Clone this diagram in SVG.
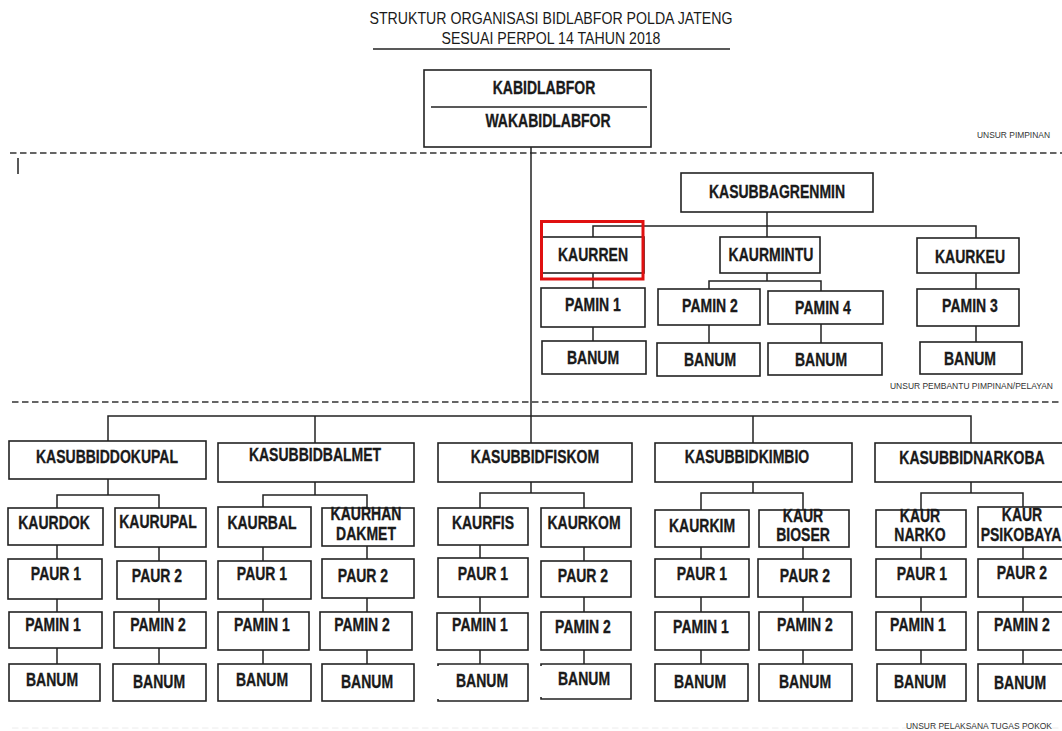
<svg xmlns="http://www.w3.org/2000/svg" width="1062" height="731" viewBox="0 0 1062 731">
<style>
.bx{fill:#fff;stroke:#222;stroke-width:1.6}
.op{fill:none;stroke:#222;stroke-width:1.6}
.ln{fill:none;stroke:#222;stroke-width:1.5}
.ds{fill:none;stroke:#333;stroke-width:1.5;stroke-dasharray:6.5 3.5}
.t{font-family:"Liberation Sans",Arial,sans-serif;font-weight:bold;font-size:14px;fill:#1a1a1a;stroke:#1a1a1a;stroke-width:0.25;text-anchor:middle;dominant-baseline:central;transform-box:fill-box;transform-origin:50% 50%;transform:scaleY(1.27)}
.h{font-family:"Liberation Sans",Arial,sans-serif;font-size:14px;fill:#1a1a1a;text-anchor:middle;transform-box:fill-box;transform-origin:50% 50%;transform:scaleY(1.22)}
.s{font-family:"Liberation Sans",Arial,sans-serif;font-size:7px;fill:#333;transform-box:fill-box;transform-origin:50% 50%;transform:scaleY(1.2)}
</style>
<rect width="1062" height="731" fill="#fff"/>
<g id="title">
<text class="h" x="551" y="23" textLength="363" lengthAdjust="spacingAndGlyphs">STRUKTUR ORGANISASI BIDLABFOR POLDA JATENG</text>
<text class="h" x="551" y="43" textLength="219" lengthAdjust="spacingAndGlyphs">SESUAI PERPOL 14 TAHUN 2018</text>
<line class="ln" x1="373" y1="49" x2="730" y2="49"/>
</g>
<g id="sections">
<line class="ds" x1="10" y1="153" x2="1062" y2="153"/>
<line class="ds" x1="12" y1="402" x2="1062" y2="402"/>
<line x1="12" y1="728" x2="1062" y2="728" stroke="#ececec" stroke-width="1" stroke-dasharray="6.5 3.5"/>
<line class="ln" x1="18" y1="158" x2="18" y2="174"/>
<text class="s" x="977" y="138" textLength="73" lengthAdjust="spacingAndGlyphs">UNSUR PIMPINAN</text>
<text class="s" x="890" y="389" textLength="163" lengthAdjust="spacingAndGlyphs">UNSUR PEMBANTU PIMPINAN/PELAYAN</text>
<text class="s" x="906" y="729" textLength="146" lengthAdjust="spacingAndGlyphs">UNSUR PELAKSANA TUGAS POKOK</text>
</g>
<g id="connectors">
<line class="ln" x1="531" y1="147" x2="531" y2="443"/>
<polyline class="ln" points="767,212 767,226"/>
<polyline class="ln" points="593,237 593,226 976,226 976,238"/>
<line class="ln" x1="767" y1="226" x2="767" y2="237"/>
<line class="ln" x1="593" y1="273" x2="593" y2="288"/>
<line class="ln" x1="767" y1="273" x2="767" y2="281"/>
<polyline class="ln" points="709,289 709,281 821,281 821,291"/>
<line class="ln" x1="976" y1="273" x2="976" y2="289"/>
<line class="ln" x1="593" y1="327" x2="593" y2="341"/>
<line class="ln" x1="709" y1="325" x2="709" y2="343"/>
<line class="ln" x1="821" y1="324" x2="821" y2="343"/>
<line class="ln" x1="976" y1="326" x2="976" y2="342"/>
<polyline class="ln" points="108,441 108,416 971,416 971,443"/>
<line class="ln" x1="315" y1="416" x2="315" y2="443"/>
<line class="ln" x1="753" y1="416" x2="753" y2="443"/>
<line class="ln" x1="108" y1="479" x2="108" y2="495"/>
<polyline class="ln" points="57,508 57,495 159,495 159,508"/>
<line class="ln" x1="57" y1="545" x2="57" y2="664"/>
<line class="ln" x1="159" y1="547" x2="159" y2="664"/>
<line class="ln" x1="315" y1="482" x2="315" y2="495"/>
<polyline class="ln" points="263,507 263,495 367,495 367,508"/>
<line class="ln" x1="263" y1="547" x2="263" y2="664"/>
<line class="ln" x1="367" y1="546" x2="367" y2="664"/>
<line class="ln" x1="531" y1="482" x2="531" y2="493"/>
<polyline class="ln" points="480,508 480,493 584,493 584,508"/>
<line class="ln" x1="480" y1="545" x2="480" y2="664"/>
<line class="ln" x1="584" y1="547" x2="584" y2="664"/>
<line class="ln" x1="753" y1="482" x2="753" y2="493"/>
<polyline class="ln" points="701,510 701,493 803,493 803,510"/>
<line class="ln" x1="701" y1="547" x2="701" y2="664"/>
<line class="ln" x1="803" y1="547" x2="803" y2="664"/>
<line class="ln" x1="971" y1="482" x2="971" y2="493"/>
<polyline class="ln" points="921,510 921,493 1023,493 1023,507"/>
<line class="ln" x1="921" y1="547" x2="921" y2="664"/>
<line class="ln" x1="1023" y1="547" x2="1023" y2="664"/>
</g>
<g id="kabid"><rect class="bx" x="424" y="70" width="227" height="77"/><line class="ln" x1="431" y1="107" x2="647" y2="107"/><text class="t" x="544" y="88">KABIDLABFOR</text><text class="t" x="548" y="121">WAKABIDLABFOR</text></g>
<g id="kasubbagrenmin"><rect class="bx" x="681" y="173" width="192" height="39"/><text class="t" x="777" y="192">KASUBBAGRENMIN</text></g>
<g id="kaurren"><rect class="bx" x="542" y="237" width="102" height="36"/><text class="t" x="593" y="255">KAURREN</text></g>
<g id="kaurmintu"><rect class="bx" x="720" y="237" width="100" height="36"/><text class="t" x="771" y="255">KAURMINTU</text></g>
<g id="kaurkeu"><rect class="bx" x="917" y="238" width="102" height="35"/><text class="t" x="970" y="257">KAURKEU</text></g>
<g id="renmin-pamin1"><rect class="bx" x="541" y="288" width="104" height="39"/><text class="t" x="593" y="305">PAMIN 1</text></g>
<g id="renmin-pamin2"><rect class="bx" x="658" y="289" width="102" height="36"/><text class="t" x="710" y="306">PAMIN 2</text></g>
<g id="renmin-pamin4"><rect class="bx" x="768" y="291" width="115" height="33"/><text class="t" x="823" y="308">PAMIN 4</text></g>
<g id="renmin-pamin3"><rect class="bx" x="917" y="289" width="102" height="37"/><text class="t" x="970" y="306">PAMIN 3</text></g>
<g id="renmin-banum1"><rect class="bx" x="542" y="341" width="104" height="33"/><text class="t" x="593" y="358">BANUM</text></g>
<g id="renmin-banum2"><rect class="bx" x="657" y="343" width="103" height="33"/><text class="t" x="710" y="360">BANUM</text></g>
<g id="renmin-banum4"><rect class="bx" x="768" y="343" width="114" height="32"/><text class="t" x="821" y="360">BANUM</text></g>
<g id="renmin-banum3"><rect class="bx" x="920" y="342" width="102" height="32"/><text class="t" x="970" y="359">BANUM</text></g>
<g id="highlight"><rect x="541.5" y="221.5" width="101.5" height="57.5" fill="none" stroke="#e01010" stroke-width="3"/></g>

<g id="kasubbiddokupal"><rect class="bx" x="9" y="441" width="197" height="38"/><text class="t" x="107" y="457">KASUBBIDDOKUPAL</text></g>
<g id="kaurdok"><rect class="bx" x="8" y="508" width="95" height="37"/><text class="t" x="54" y="523">KAURDOK</text></g>
<g id="kaurupal"><rect class="bx" x="115" y="508" width="91" height="39"/><text class="t" x="158" y="522">KAURUPAL</text></g>
<g id="dok-paur1"><rect class="bx" x="8" y="559" width="94" height="40"/><text class="t" x="56" y="574">PAUR 1</text></g>
<g id="upal-paur2"><rect class="bx" x="117" y="561" width="89" height="38"/><text class="t" x="157" y="576">PAUR 2</text></g>
<g id="dok-pamin1"><rect class="bx" x="9" y="612" width="93" height="36"/><text class="t" x="53" y="625">PAMIN 1</text></g>
<g id="upal-pamin2"><rect class="bx" x="114" y="612" width="92" height="36"/><text class="t" x="158" y="625">PAMIN 2</text></g>
<g id="dok-banum"><rect class="bx" x="9" y="664" width="91" height="37"/><text class="t" x="52" y="680">BANUM</text></g>
<g id="upal-banum"><rect class="bx" x="113" y="664" width="93" height="37"/><text class="t" x="159" y="682">BANUM</text></g>

<g id="kasubbidbalmet"><rect class="bx" x="218" y="443" width="196" height="39"/><text class="t" x="315" y="455">KASUBBIDBALMET</text></g>
<g id="kaurbal"><rect class="bx" x="218" y="507" width="93" height="40"/><text class="t" x="262" y="523">KAURBAL</text></g>
<g id="kaurhandakmet"><rect class="bx" x="322" y="508" width="92" height="38"/><text class="t" x="366" y="514">KAURHAN</text><text class="t" x="366" y="534">DAKMET</text></g>
<g id="bal-paur1"><rect class="bx" x="218" y="561" width="93" height="38"/><text class="t" x="262" y="574">PAUR 1</text></g>
<g id="hdm-paur2"><rect class="bx" x="322" y="559" width="92" height="39"/><text class="t" x="363" y="576">PAUR 2</text></g>
<g id="bal-pamin1"><rect class="bx" x="218" y="612" width="91" height="38"/><text class="t" x="262" y="625">PAMIN 1</text></g>
<g id="hdm-pamin2"><rect class="bx" x="320" y="612" width="92" height="38"/><text class="t" x="362" y="625">PAMIN 2</text></g>
<g id="bal-banum"><rect class="bx" x="218" y="664" width="93" height="37"/><text class="t" x="262" y="680">BANUM</text></g>
<g id="hdm-banum"><rect class="bx" x="322" y="664" width="92" height="37"/><text class="t" x="367" y="682">BANUM</text></g>

<g id="kasubbidfiskom"><rect class="bx" x="438" y="443" width="194" height="39"/><text class="t" x="535" y="457">KASUBBIDFISKOM</text></g>
<g id="kaurfis"><rect class="bx" x="438" y="508" width="90" height="37"/><text class="t" x="483" y="523">KAURFIS</text></g>
<g id="kaurkom"><rect class="bx" x="541" y="508" width="90" height="39"/><text class="t" x="584" y="523">KAURKOM</text></g>
<g id="fis-paur1"><rect class="bx" x="438" y="558" width="90" height="39"/><text class="t" x="483" y="574">PAUR 1</text></g>
<g id="kom-paur2"><rect class="bx" x="541" y="561" width="90" height="36"/><text class="t" x="583" y="576">PAUR 2</text></g>
<g id="fis-pamin1"><rect class="bx" x="437" y="613" width="91" height="37"/><text class="t" x="480" y="625">PAMIN 1</text></g>
<g id="kom-pamin2"><rect class="bx" x="541" y="612" width="90" height="38"/><text class="t" x="583" y="627">PAMIN 2</text></g>
<g id="fis-banum"><path class="op" d="M438,666 V664 H528 V701 H438 V699"/><text class="t" x="482" y="681">BANUM</text></g>
<g id="kom-banum"><path class="op" d="M541,666 V664 H631 V699 H541 V697"/><text class="t" x="584" y="679">BANUM</text></g>

<g id="kasubbidkimbio"><rect class="bx" x="655" y="443" width="197" height="39"/><text class="t" x="747" y="457">KASUBBIDKIMBIO</text></g>
<g id="kaurkim"><rect class="bx" x="655" y="510" width="94" height="37"/><text class="t" x="702" y="526">KAURKIM</text></g>
<g id="kaurbioser"><rect class="bx" x="759" y="510" width="90" height="37"/><text class="t" x="803" y="516">KAUR</text><text class="t" x="803" y="535">BIOSER</text></g>
<g id="kim-paur1"><rect class="bx" x="655" y="559" width="94" height="38"/><text class="t" x="702" y="574">PAUR 1</text></g>
<g id="bio-paur2"><rect class="bx" x="758" y="559" width="93" height="38"/><text class="t" x="805" y="576">PAUR 2</text></g>
<g id="kim-pamin1"><rect class="bx" x="655" y="612" width="94" height="38"/><text class="t" x="701" y="627">PAMIN 1</text></g>
<g id="bio-pamin2"><rect class="bx" x="759" y="612" width="93" height="38"/><text class="t" x="805" y="625">PAMIN 2</text></g>
<g id="kim-banum"><rect class="bx" x="655" y="664" width="93" height="37"/><text class="t" x="700" y="682">BANUM</text></g>
<g id="bio-banum"><rect class="bx" x="759" y="664" width="93" height="37"/><text class="t" x="805" y="682">BANUM</text></g>

<g id="kasubbidnarkoba"><rect class="bx" x="875" y="443" width="192" height="39"/><text class="t" x="972" y="458">KASUBBIDNARKOBA</text></g>
<g id="kaurnarko"><rect class="bx" x="876" y="510" width="90" height="37"/><text class="t" x="920" y="516">KAUR</text><text class="t" x="920" y="535">NARKO</text></g>
<g id="kaurpsikobaya"><rect class="bx" x="978" y="507" width="90" height="40"/><text class="t" x="1022" y="515">KAUR</text><text class="t" x="1021" y="535">PSIKOBAYA</text></g>
<g id="nar-paur1"><rect class="bx" x="876" y="559" width="90" height="38"/><text class="t" x="922" y="574">PAUR 1</text></g>
<g id="psi-paur2"><rect class="bx" x="978" y="559" width="90" height="38"/><text class="t" x="1022" y="573">PAUR 2</text></g>
<g id="nar-pamin1"><rect class="bx" x="876" y="612" width="90" height="38"/><text class="t" x="918" y="625">PAMIN 1</text></g>
<g id="psi-pamin2"><rect class="bx" x="978" y="612" width="90" height="38"/><text class="t" x="1022" y="625">PAMIN 2</text></g>
<g id="nar-banum"><rect class="bx" x="877" y="664" width="89" height="37"/><text class="t" x="920" y="682">BANUM</text></g>
<g id="psi-banum"><rect class="bx" x="978" y="664" width="90" height="37"/><text class="t" x="1020" y="683">BANUM</text></g>
</svg>
